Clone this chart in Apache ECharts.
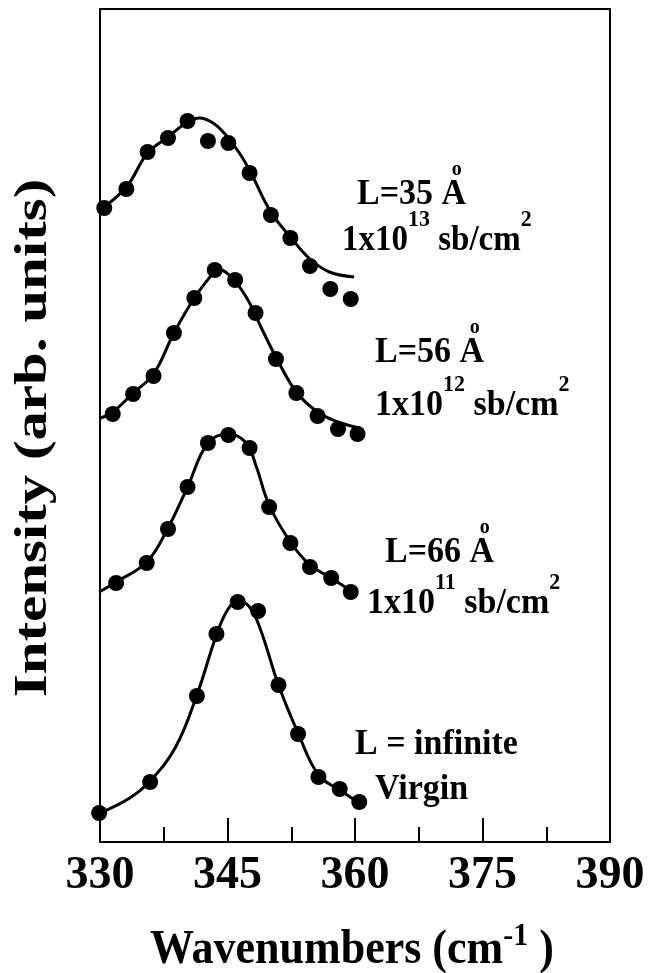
<!DOCTYPE html>
<html>
<head>
<meta charset="utf-8">
<title>Intensity vs wavenumber</title>
<script src="https://cdn.jsdelivr.net/npm/echarts@6/dist/echarts.min.js"></script>
<style>
    html, body { margin: 0; background: #fff; }
    #main { width: 649px; height: 973px; }
</style>
</head>
<body>
<div id="main"></div>
<script>
    // x axis (cm^-1)
    var xTicks = [330, 345, 360, 375, 390];

    // L=35 A, 1x10^13 sb/cm^2 : measured points and fitted curve
    var x35 = [330.5, 333.1, 335.6, 338.0, 340.3, 342.7, 345.1, 347.6, 350.1, 352.4, 354.7, 357.1, 359.5];
    var y35 = [634, 653, 690, 704, 721, 701, 699, 669, 627, 604, 576, 553, 543];
    var fx35 = [330.0, 333.1, 335.6, 338.0, 340.3, 341.7, 343.3, 344.8, 346.4, 347.7, 350.1, 352.4, 354.7, 357.0, 359.9];
    var fy35 = [632, 655, 689, 705, 720, 724, 719, 707, 689, 670, 630, 605, 583, 570, 565];

    // L=56 A, 1x10^12
    var x56 = [331.5, 333.9, 336.3, 338.7, 341.1, 343.5, 345.9, 348.3, 350.7, 353.1, 355.6, 358.0, 360.3];
    var y56 = [428, 448, 466, 509, 544, 572, 562, 529, 483, 449, 426, 413, 408];
    var fx56 = [330.1, 331.5, 333.9, 336.3, 338.7, 341.1, 343.5, 343.8, 345.2, 347.2, 349.1, 350.7, 353.1, 355.6, 358.0, 360.5];
    var fy56 = [424, 430, 449, 468, 509, 544, 571, 573, 567, 545, 512, 485, 450, 430, 420, 414];

    // L=66 A, 1x10^11
    var x66 = [331.9, 335.5, 338.0, 340.3, 342.7, 345.1, 347.6, 349.9, 352.4, 354.7, 357.2, 359.5];
    var y66 = [259, 279, 313, 355, 399, 407, 394, 335, 299, 275, 264, 250];
    var fx66 = [329.9, 331.9, 335.5, 338.0, 340.3, 342.7, 345.1, 347.2, 348.4, 349.9, 352.4, 354.7, 357.2, 359.7];
    var fy66 = [250, 260, 280, 314, 355, 399, 408, 399, 375, 337, 300, 277, 264, 250];

    // L = infinite, virgin
    var xV = [329.9, 335.9, 341.4, 343.7, 346.2, 348.6, 351.0, 353.3, 355.7, 358.2, 360.5];
    var yV = [29, 60, 146, 208, 240, 231, 157, 108, 65, 53, 40];
    var fxV = [330.0, 333.5, 335.9, 338.9, 341.4, 343.7, 345.0, 346.2, 347.6, 348.9, 351.0, 353.3, 355.7, 358.2, 360.5];
    var fyV = [29, 44, 61, 95, 147, 207, 232, 241, 235, 212, 157, 109, 67, 52, 39];

    var FONT = '"Liberation Serif", "Times New Roman", serif';

    function zip(xs, ys) {
        return xs.map(function (x, i) { return [x, ys[i]]; });
    }

    // measure text so superscripts can be chained after the base text
    var mctx = document.createElement('canvas').getContext('2d');
    function textW(s, size) {
        mctx.font = 'bold ' + size + 'px ' + FONT;
        return mctx.measureText(s).width;
    }

    var graphics = [];
    // parts: [text, fontSize, rise above baseline]; sy = vertical stretch
    function runText(x, baseline, parts, sy) {
        sy = sy || 1;
        parts.forEach(function (p) {
            var size = p[1], rise = p[2] || 0;
            graphics.push({
                type: 'text', silent: true, scaleY: sy,
                x: x, y: baseline - rise - 0.34 * size * sy,
                style: { text: p[0], font: 'bold ' + size + 'px ' + FONT, fill: '#000', align: 'left', verticalAlign: 'middle' }
            });
            x += textW(p[0], size);
        });
    }
    // "L=.. A" with a small o above the A
    function angstrom(x, baseline, txt) {
        runText(x, baseline, [[txt + ' A', 34]], 1.06);
        var cx = x + textW(txt + ' ', 34) + textW('A', 34) / 2;
        graphics.push({
            type: 'text', silent: true, x: cx + 3, y: baseline - 37,
            style: { text: 'o', font: 'bold 20px ' + FONT, fill: '#000', align: 'center', verticalAlign: 'middle' }
        });
    }

    angstrom(357, 207, 'L=35');
    runText(342, 253, [['1x10', 33], ['13', 22, 25], [' sb/cm', 33], ['2', 22, 25]], 1.08);
    angstrom(375, 365, 'L=56');
    runText(375, 418, [['1x10', 34], ['12', 22, 25], [' sb/cm', 34], ['2', 22, 25]], 1.08);
    angstrom(385, 565, 'L=66');
    runText(367, 616, [['1x10', 34], ['11', 22, 25], [' sb/cm', 34], ['2', 22, 25]], 1.08);
    runText(355, 757, [['L = infinite', 34]], 1.06);
    runText(375, 802, [['Virgin', 34]], 1.06);

    // axis titles
    runText(150, 967, [['Wavenumbers (cm', 44], ['-1', 30, 19], [' )', 44]], 1.08);
    graphics.push({
        type: 'text', silent: true, x: 34, y: 438, rotation: Math.PI / 2, scaleX: 1.28,
        style: { text: 'Intensity (arb. units)', font: 'bold 46px ' + FONT, fill: '#000', align: 'center', verticalAlign: 'middle' }
    });

    function dots(xs, ys) {
        return {
            type: 'scatter', data: zip(xs, ys), symbol: 'circle', symbolSize: 16,
            itemStyle: { color: '#000', opacity: 1 }, clip: false, z: 3, silent: true
        };
    }
    function fit(xs, ys) {
        return {
            type: 'line', data: zip(xs, ys), smooth: 0.4, showSymbol: false,
            lineStyle: { color: '#000', width: 3 }, clip: false, z: 2, silent: true
        };
    }

    var chart = echarts.init(document.getElementById('main'));
    var option = {
        animation: false,
        backgroundColor: '#fff',
        grid: { left: 100, right: 39, top: 9, bottom: 131, show: true, borderColor: '#000', borderWidth: 2, backgroundColor: 'transparent' },
        xAxis: {
            type: 'value',
            min: xTicks[0], max: xTicks[xTicks.length - 1], interval: xTicks[1] - xTicks[0],
            axisLine: { show: true, lineStyle: { color: '#000', width: 2 } },
            axisTick: { show: true, inside: true, length: 24, lineStyle: { color: '#000', width: 2 } },
            minorTick: { show: true, splitNumber: 2, length: 15, lineStyle: { color: '#000', width: 2 } },
            splitLine: { show: false },
            axisLabel: { fontFamily: FONT, fontWeight: 'bold', fontSize: 46, color: '#000', margin: 11 }
        },
        yAxis: {
            type: 'value', min: 0, max: 833,
            axisLine: { show: true, lineStyle: { color: '#000', width: 2 } },
            axisTick: { show: false }, axisLabel: { show: false }, splitLine: { show: false }
        },
        series: [
            fit(fx35, fy35), dots(x35, y35),
            fit(fx56, fy56), dots(x56, y56),
            fit(fx66, fy66), dots(x66, y66),
            fit(fxV, fyV), dots(xV, yV)
        ],
        graphic: graphics
    };
    chart.setOption(option);
    window.onresize = chart.resize;
</script>
</body>
</html>
